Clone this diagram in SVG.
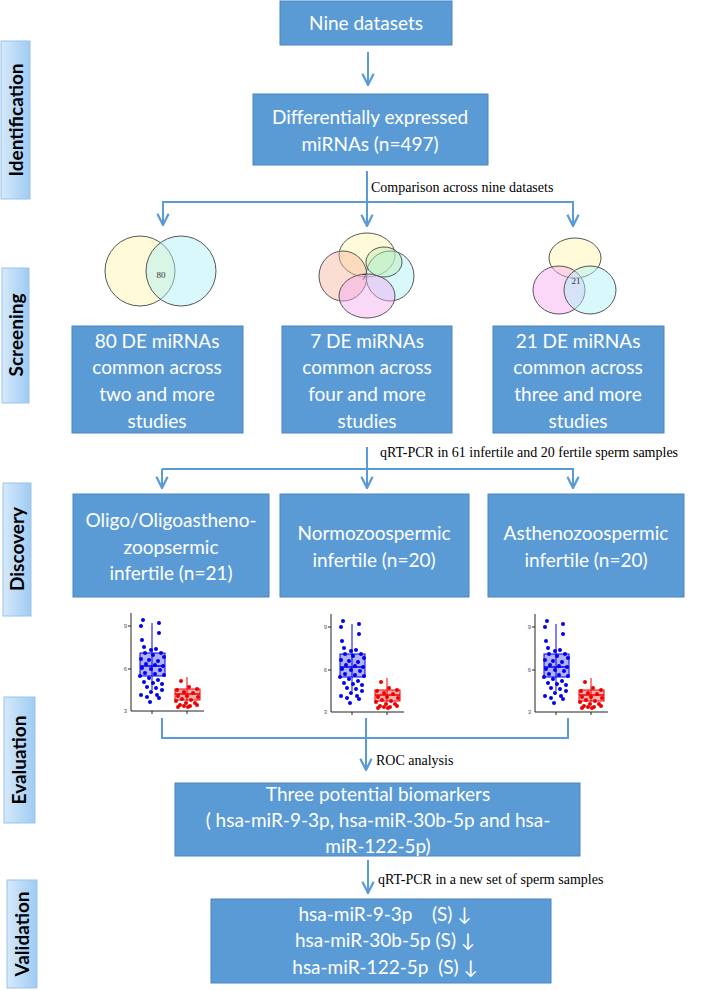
<svg xmlns="http://www.w3.org/2000/svg" width="727" height="991" viewBox="0 0 727 991">
<style>
.box{fill:#5b9bd5;stroke:#4a86c0;stroke-width:1}
.bt{font-family:Lato,"Open Sans",sans-serif;font-size:19px;fill:#fff;text-anchor:middle}
.side{fill:url(#sg);stroke:#9cc3e8;stroke-width:1}
.st{font-family:Lato,"Open Sans",sans-serif;font-weight:bold;font-size:19px;fill:#000;text-anchor:middle}
.ln{fill:none;stroke:#5b9bd5;stroke-width:2}
.lab{font-family:"Liberation Serif",serif;font-size:14px;fill:#000}
.vn{fill-opacity:.45;stroke:#555;stroke-width:1}
.vt{font-family:"Liberation Serif",serif;font-size:9px;fill:#333;text-anchor:middle}
.ax{stroke:#222;stroke-width:1;fill:none}
.tk{font-family:"Liberation Sans",sans-serif;font-size:6px;fill:#555;text-anchor:end}
.b{fill:#0000ee}
.r{fill:#ee0000}
</style>
<defs>
<linearGradient id="sg" x1="0" y1="0" x2="1" y2="0"><stop offset="0" stop-color="#d6e9fb"/><stop offset="1" stop-color="#9fcbf3"/></linearGradient>
<marker id="ah" viewBox="0 0 10 10" refX="9" refY="5" markerWidth="7" markerHeight="7" orient="auto"><path d="M1,1 L9,5 L1,9" fill="none" stroke="#5b9bd5" stroke-width="1.6"/></marker>
<g id="plot">
<path class="ax" d="M0,-98 V0 H73 M-3,-85 H0 M-3,-42 H0 M21,0 V3 M56,0 V3"/>
<text class="tk" x="-4" y="-83">9</text><text class="tk" x="-4" y="-40">6</text><text class="tk" x="-4" y="2">3</text>
<line x1="21" y1="-88" x2="21" y2="-21" stroke="#0000ee"/>
<rect x="9" y="-58" width="25" height="23" fill="#0000ee" fill-opacity=".3" stroke="#0000ee"/>
<line x1="9" y1="-45" x2="34" y2="-45" stroke="#0000ee" stroke-width="1.5"/>
<g class="b">
<circle cx="12" cy="-91" r="2"/><circle cx="28" cy="-88" r="2"/><circle cx="10" cy="-85" r="2"/><circle cx="28" cy="-78" r="2"/>
<circle cx="11" cy="-71" r="2"/><circle cx="13" cy="-64" r="2"/><circle cx="20" cy="-61" r="2"/><circle cx="25" cy="-62" r="2"/>
<circle cx="30" cy="-58" r="2"/><circle cx="14" cy="-58" r="2"/><circle cx="22" cy="-56" r="2"/><circle cx="33" cy="-54" r="2"/>
<circle cx="10" cy="-52" r="2"/><circle cx="18" cy="-51" r="2"/><circle cx="27" cy="-50" r="2"/><circle cx="15" cy="-47" r="2"/>
<circle cx="24" cy="-46" r="2"/><circle cx="32" cy="-45" r="2"/><circle cx="11" cy="-43" r="2"/><circle cx="20" cy="-42" r="2"/>
<circle cx="29" cy="-41" r="2"/><circle cx="14" cy="-38" r="2"/><circle cx="24" cy="-37" r="2"/><circle cx="33" cy="-36" r="2"/>
<circle cx="9" cy="-35" r="2"/><circle cx="18" cy="-33" r="2"/><circle cx="27" cy="-31" r="2"/><circle cx="13" cy="-29" r="2"/>
<circle cx="22" cy="-28" r="2"/><circle cx="31" cy="-27" r="2"/><circle cx="16" cy="-24" r="2"/><circle cx="25" cy="-23" r="2"/>
<circle cx="31" cy="-21" r="2"/><circle cx="20" cy="-19" r="2"/><circle cx="10" cy="-16" r="2"/><circle cx="26" cy="-16" r="2"/>
<circle cx="16" cy="-14" r="2"/><circle cx="28" cy="-13" r="2"/><circle cx="19" cy="-9" r="2"/>
</g>
<line x1="56" y1="-34" x2="56" y2="-10" stroke="#ee0000"/>
<rect x="44" y="-22" width="25" height="11" fill="#ee0000" fill-opacity=".3" stroke="#ee0000"/>
<line x1="44" y1="-17" x2="69" y2="-17" stroke="#ee0000" stroke-width="1.5"/>
<g class="r">
<circle cx="50" cy="-30" r="2"/><circle cx="46" cy="-21" r="2"/><circle cx="58" cy="-24" r="2"/><circle cx="66" cy="-22" r="2"/>
<circle cx="53" cy="-19" r="2"/><circle cx="62" cy="-18" r="2"/><circle cx="47" cy="-15" r="2"/><circle cx="56" cy="-15" r="2"/>
<circle cx="67" cy="-14" r="2"/><circle cx="51" cy="-12" r="2"/><circle cx="60" cy="-11" r="2"/><circle cx="45" cy="-10" r="2"/>
<circle cx="55" cy="-8" r="2"/><circle cx="64" cy="-8" r="2"/><circle cx="49" cy="-6" r="2"/><circle cx="59" cy="-5" r="2"/>
<circle cx="47" cy="-4" r="2"/><circle cx="57" cy="-4" r="2"/><circle cx="66" cy="-6" r="2"/><circle cx="53" cy="-5" r="2"/>
</g>
</g>
</defs>
<rect width="727" height="991" fill="#fff"/>

<g id="side-labels">
<g id="s-identification"><rect class="side" x="1" y="41" width="29" height="158"/><text class="st" transform="translate(23,120) rotate(-90)">Identification</text></g>
<g id="s-screening"><rect class="side" x="2" y="268" width="27" height="135"/><text class="st" transform="translate(23,335) rotate(-90)">Screening</text></g>
<g id="s-discovery"><rect class="side" x="3" y="483" width="28" height="133"/><text class="st" transform="translate(24,549) rotate(-90)">Discovery</text></g>
<g id="s-evaluation"><rect class="side" x="4" y="697" width="31" height="126"/><text class="st" transform="translate(26,760) rotate(-90)">Evaluation</text></g>
<g id="s-validation"><rect class="side" x="7" y="880" width="30" height="108"/><text class="st" transform="translate(29,934) rotate(-90)">Validation</text></g>
</g>

<g id="connectors">
<line class="ln" x1="368" y1="52" x2="368" y2="85" marker-end="url(#ah)"/>
<path class="ln" d="M367,171 V224"/>
<path class="ln" d="M163,225 V202 H573 V226" marker-end="url(#ah)"/>
<line class="ln" x1="163" y1="202" x2="163" y2="225" marker-end="url(#ah)"/>
<line class="ln" x1="367" y1="202" x2="367" y2="226" marker-end="url(#ah)"/>
<path class="ln" d="M367,447 V487"/>
<path class="ln" d="M162,469 H573 V488" marker-end="url(#ah)"/>
<line class="ln" x1="162" y1="469" x2="162" y2="488" marker-end="url(#ah)"/>
<line class="ln" x1="367" y1="469" x2="367" y2="488" marker-end="url(#ah)"/>
<path class="ln" d="M162,718 V738 H568 V718 M366,718 V738"/>
<line class="ln" x1="366" y1="738" x2="366" y2="770" marker-end="url(#ah)"/>
<line class="ln" x1="368" y1="860" x2="368" y2="893" marker-end="url(#ah)"/>
<text class="lab" x="371" y="192">Comparison across nine datasets</text>
<text class="lab" x="380" y="457">qRT-PCR in 61 infertile and 20 fertile sperm samples</text>
<text class="lab" x="376" y="765">ROC analysis</text>
<text class="lab" x="378" y="884">qRT-PCR in a new set of sperm samples</text>
</g>

<g id="n-nine"><rect class="box" x="280" y="1" width="172" height="44"/><text class="bt" x="366" y="30">Nine datasets</text></g>
<g id="n-de"><rect class="box" x="253" y="94" width="235" height="71"/><text class="bt" x="370" y="124">Differentially expressed</text><text class="bt" x="370" y="151">miRNAs  (n=497)</text></g>

<g id="venn1">
<ellipse class="vn" cx="140" cy="271" rx="35" ry="35" fill="#fff3a8"/>
<ellipse class="vn" cx="181" cy="271" rx="35" ry="35" fill="#a8f0f8"/>
<text class="vt" x="161" y="278">80</text>
</g>
<g id="venn2">
<ellipse class="vn" cx="367" cy="255" rx="28" ry="22" fill="#fff3a8"/>
<ellipse class="vn" cx="343" cy="276" rx="24" ry="25" fill="#f8b4a0"/>
<ellipse class="vn" cx="390" cy="276" rx="24" ry="25" fill="#a8f0f8"/>
<ellipse class="vn" cx="367" cy="296" rx="28" ry="22" fill="#f4a8f0"/>
<ellipse class="vn" cx="384" cy="262" rx="18" ry="15" fill="#b8f0b0" stroke="none"/>
<text class="vt" x="364" y="280">7</text>
</g>
<g id="venn3">
<ellipse class="vn" cx="575" cy="258" rx="26" ry="20" fill="#fff3a8"/>
<ellipse class="vn" cx="559" cy="290" rx="26" ry="24" fill="#f8a8f0"/>
<ellipse class="vn" cx="590" cy="290" rx="26" ry="24" fill="#a8f0f8"/>
<text class="vt" x="576" y="284">21</text>
</g>

<g id="n-s1"><rect class="box" x="72" y="326" width="171" height="107"/><text class="bt" x="157" y="348">80 DE miRNAs</text><text class="bt" x="157" y="374">common across</text><text class="bt" x="157" y="401">two and more</text><text class="bt" x="157" y="428">studies</text></g>
<g id="n-s2"><rect class="box" x="282" y="326" width="170" height="107"/><text class="bt" x="367" y="348">7 DE miRNAs</text><text class="bt" x="367" y="374">common across</text><text class="bt" x="367" y="401">four and more</text><text class="bt" x="367" y="428">studies</text></g>
<g id="n-s3"><rect class="box" x="493" y="326" width="171" height="107"/><text class="bt" x="578" y="348">21 DE miRNAs</text><text class="bt" x="578" y="374">common across</text><text class="bt" x="578" y="401">three and more</text><text class="bt" x="578" y="428">studies</text></g>

<g id="n-d1"><rect class="box" x="73" y="494" width="196" height="103"/><text class="bt" x="171" y="527">Oligo/Oligoastheno-</text><text class="bt" x="171" y="554">zoopsermic</text><text class="bt" x="171" y="580">infertile  (n=21)</text></g>
<g id="n-d2"><rect class="box" x="280" y="494" width="189" height="103"/><text class="bt" x="374" y="540">Normozoospermic</text><text class="bt" x="374" y="567">infertile  (n=20)</text></g>
<g id="n-d3"><rect class="box" x="488" y="494" width="196" height="103"/><text class="bt" x="586" y="540">Asthenozoospermic</text><text class="bt" x="586" y="567">infertile  (n=20)</text></g>

<g id="plots">
<use href="#plot" x="131" y="711"/>
<use href="#plot" x="331" y="712"/>
<use href="#plot" x="535" y="712"/>
</g>

<g id="n-eval"><rect class="box" x="175" y="783" width="405" height="73"/><text class="bt" x="378" y="801">Three potential biomarkers</text><text class="bt" x="378" y="827">( hsa-miR-9-3p, hsa-miR-30b-5p and hsa-</text><text class="bt" x="378" y="853">miR-122-5p)</text></g>
<g id="n-valid"><rect class="box" x="211" y="899" width="340" height="84"/><text class="bt" x="385" y="921" xml:space="preserve">hsa-miR-9-3p    (S) ↓</text><text class="bt" x="385" y="947">hsa-miR-30b-5p (S) ↓</text><text class="bt" x="385" y="974" xml:space="preserve">hsa-miR-122-5p  (S) ↓</text></g>
</svg>
